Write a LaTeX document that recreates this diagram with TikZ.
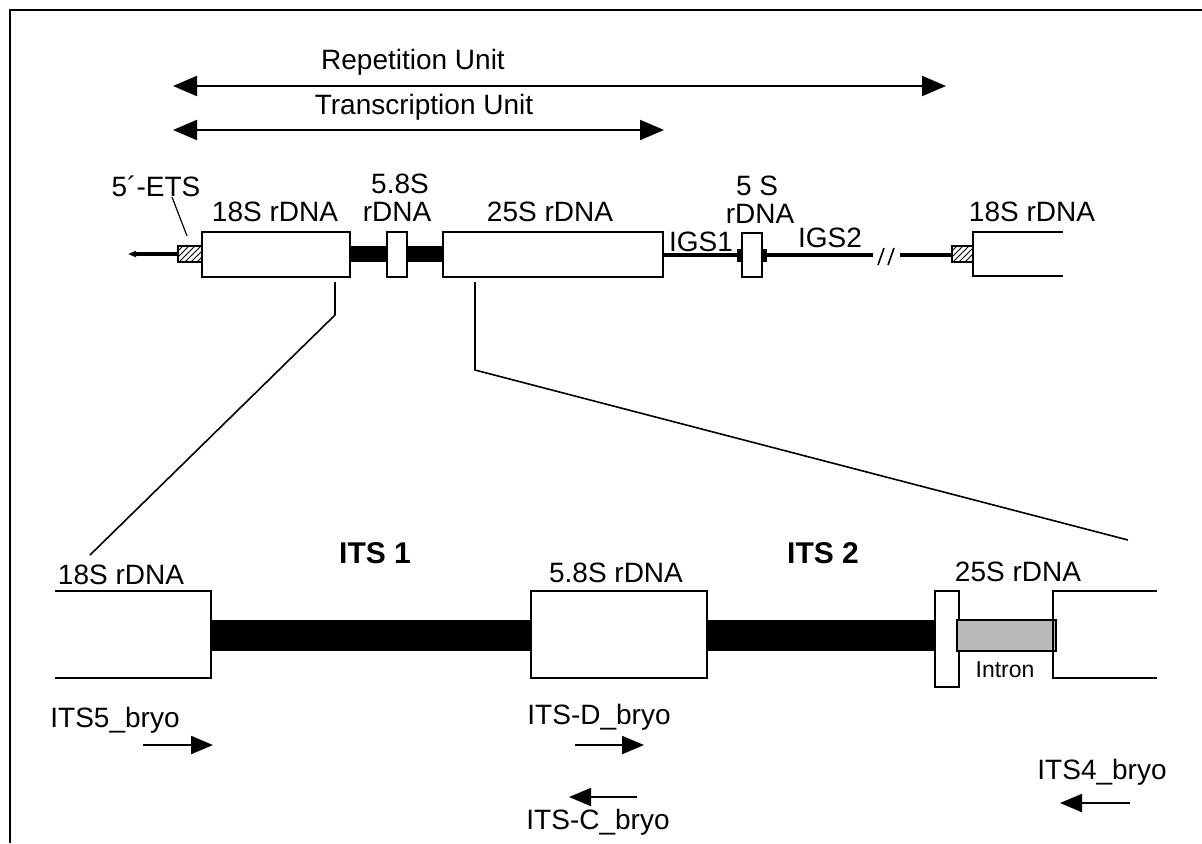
\documentclass[tikz,border=0pt]{standalone}
\usepackage{fontspec}
\setmainfont{Liberation Sans}
\usetikzlibrary{arrows.meta,patterns}
\begin{document}
\begin{tikzpicture}[x=0.5pt,y=-0.5pt,
  lbl/.style={inner sep=0pt,font=\fontsize{14}{16}\selectfont},
  bold/.style={inner sep=0pt,font=\fontsize{15}{17}\selectfont\bfseries},
  small/.style={inner sep=0pt,font=\fontsize{11.5}{13}\selectfont},
  box/.style={draw=black,line width=0.8pt,fill=white},
  openbox/.style={draw=black,line width=0.8pt},
  span/.style={line width=1pt,{Triangle[length=12pt,width=10pt]}-{Triangle[length=12pt,width=10pt]}},
  primer/.style={line width=1pt,-{Triangle[length=11pt,width=9pt]}},
  hatch/.style={draw=black,line width=0.8pt,pattern=north east lines},
  zoomline/.style={line width=0.8pt}]
\useasboundingbox (0,0) rectangle (1202,843);
% frame
\draw[line width=1pt] (1202,10) -- (10,10) -- (10,843);
% unit arrows
\coordinate (rl) at (173,86); \coordinate (rr) at (946,86);
\coordinate (tl) at (173,130); \coordinate (tr) at (664,130);
\draw[span] (rl) -- (rr);
\draw[span] (tl) -- (tr);
\node[lbl] (rep) at (413,62) {Repetition Unit};
\node[lbl] (tra) at (424,107) {Transcription Unit};
% top gene line
\coordinate (lstart) at (128,254);
\draw[line width=2.2pt,-{Triangle[length=4pt,width=3pt]}] (179,254) -- (lstart);
\draw[hatch] (178,246) rectangle (202,262);
\fill (350,246) rectangle (443,262);
\draw[box] (202,232) rectangle (350,277);
\draw[box] (387,232) rectangle (407,277);
\draw[box] (443,232) rectangle (663,277);
\draw[line width=2.2pt] (663,255) -- (742,255);
\fill (737,249) rectangle (742,262);
\fill (762,249) rectangle (767,262);
\draw[line width=2.2pt] (762,255) -- (873,255);
\draw[box] (742,233) rectangle (762,277);
\draw[line width=0.8pt] (878,265) -- (884,248);
\draw[line width=0.8pt] (888,265) -- (894,248);
\draw[line width=2.2pt] (900,255) -- (953,255);
\draw[hatch] (952,246) rectangle (973,262);
\draw[openbox] (1063,232) -- (973,232) -- (973,276) -- (1063,276);
% top labels
\node[lbl] (ets) at (156,186) {5´-ETS};
\draw[line width=0.6pt] (172,197) -- (187,236);
\node[lbl] (s18) at (275,212) {18S rDNA};
\node[lbl] (s58a) at (400,184) {5.8S};
\node[lbl] (s58b) at (397,212) {rDNA};
\node[lbl] (s25) at (550,212) {25S rDNA};
\node[lbl] (s5a) at (757,186) {5 S};
\node[lbl] (s5b) at (760,214) {rDNA};
\node[lbl] (igs1) at (701,242) {IGS1};
\node[lbl] (igs2) at (830,238) {IGS2};
\node[lbl] (s18r) at (1032,212) {18S rDNA};
% zoom lines
\draw[zoomline] (335,282) -- (335,315) -- (90,555);
\draw[zoomline] (475,282) -- (475,370) -- (1128,540);
% bottom diagram
\fill (211,620) rectangle (531,651);
\fill (707,620) rectangle (936,651);
\draw[openbox] (55,591) -- (211,591) -- (211,678) -- (55,678);
\draw[box] (531,591) rectangle (707,678);
\draw[box] (935,591) rectangle (959,687);
\draw[draw=black,line width=0.8pt,fill=gray!55] (957,620) rectangle (1056,651);
\draw[openbox] (1157,591) -- (1053,591) -- (1053,678) -- (1157,678);
\node[bold] (its1) at (375,553) {ITS 1};
\node[bold] (its2) at (823,553) {ITS 2};
\node[lbl] (b18) at (121,575) {18S rDNA};
\node[lbl] (b58) at (616,573) {5.8S rDNA};
\node[lbl] (b25) at (1018,572) {25S rDNA};
\node[small] (intron) at (1005,670) {Intron};
% primers
\node[lbl] (p5) at (115,720) {ITS5\_bryo};
\coordinate (p5a) at (143,745); \coordinate (p5b) at (213,745);
\draw[primer] (p5a) -- (p5b);
\node[lbl] (pd) at (599,717) {ITS-D\_bryo};
\coordinate (pda) at (575,745); \coordinate (pdb) at (644,745);
\draw[primer] (pda) -- (pdb);
\coordinate (pca) at (637,797); \coordinate (pcb) at (569,797);
\draw[primer] (pca) -- (pcb);
\node[lbl] (pc) at (598,822) {ITS-C\_bryo};
\node[lbl] (p4) at (1102,772) {ITS4\_bryo};
\coordinate (p4a) at (1130,803); \coordinate (p4b) at (1060,803);
\draw[primer] (p4a) -- (p4b);
\end{tikzpicture}
\end{document}
